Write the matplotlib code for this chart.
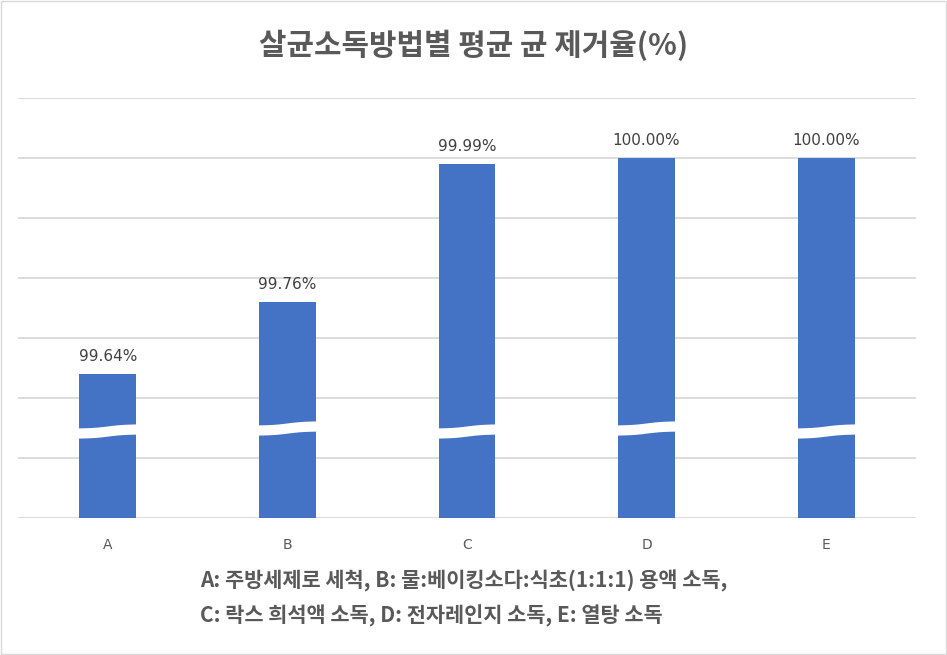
import numpy as np
import matplotlib.pyplot as plt

plt.rcParams['font.family'] = ['Noto Sans CJK KR', 'DejaVu Sans']

categories = ["A", "B", "C", "D", "E"]
values = [99.64, 99.76, 99.99, 100.00, 100.00]
labels = ["99.64%", "99.76%", "99.99%", "100.00%", "100.00%"]
title = "살균소독방법별 평균 균 제거율(%)"
caption = ["A: 주방세제로 세척, B: 물:베이킹소다:식초(1:1:1) 용액 소독,",
           "C: 락스 희석액 소독, D: 전자레인지 소독, E: 열탕 소독"]

BLUE = "#4472C4"
GRAY = "#595959"

fig = plt.figure(figsize=(9.47, 6.55), dpi=100)
ax = fig.add_axes([18 / 947, 137 / 655, 898 / 947, 420 / 655])

x = np.arange(len(categories))
width = 0.317
ax.bar(x, values, width=width, color=BLUE, zorder=2)

ax.set_ylim(99.4, 100.1)
ax.set_xlim(-0.5, len(categories) - 0.5)
ax.set_yticks(np.arange(99.4, 100.101, 0.1))
ax.yaxis.grid(True, color="#d9d9d9", linewidth=1.3, zorder=0)
ax.tick_params(axis="y", left=False, labelleft=False)
ax.tick_params(axis="x", bottom=False, labelsize=10, labelcolor=GRAY, pad=11)
ax.set_xticks(x)
ax.set_xticklabels(categories, family=["DejaVu Sans"])
for s in ax.spines.values():
    s.set_visible(False)

# decorative break band across each bar
for i, xi in enumerate(x):
    t = np.linspace(xi - width / 2 - 0.005, xi + width / 2 + 0.005, 80)
    u = (t - t[0]) / (t[-1] - t[0])
    base = 99.545 if i % 2 == 0 else 99.55
    wave = 0.0035 * np.tanh((u - 0.5) * 3.5)
    ax.fill_between(t, base + wave - 0.0085, base + wave + 0.0085,
                    color="white", linewidth=0, zorder=3)

for xi, v, lab in zip(x, values, labels):
    ax.annotate(lab, (xi, v), xytext=(0, 7), textcoords="offset points",
                ha="center", va="bottom", fontsize=11, color="#404040",
                family=["DejaVu Sans"])

fig.text(0.5, 1 - 45 / 655, title, ha="center", va="center",
         fontsize=21.5, fontweight="bold", color=GRAY)
fig.text(200 / 947, 1 - 581 / 655, caption[0], ha="left", va="center",
         fontsize=15, fontweight="bold", color=GRAY)
fig.text(200 / 947, 1 - 616 / 655, caption[1], ha="left", va="center",
         fontsize=15, fontweight="bold", color=GRAY)

fig.patches.append(plt.Rectangle((0.001, 0.001), 0.998, 0.998, transform=fig.transFigure,
                                 fill=False, edgecolor="#d9d9d9", linewidth=1))

fig.savefig("out.png", dpi=100)
